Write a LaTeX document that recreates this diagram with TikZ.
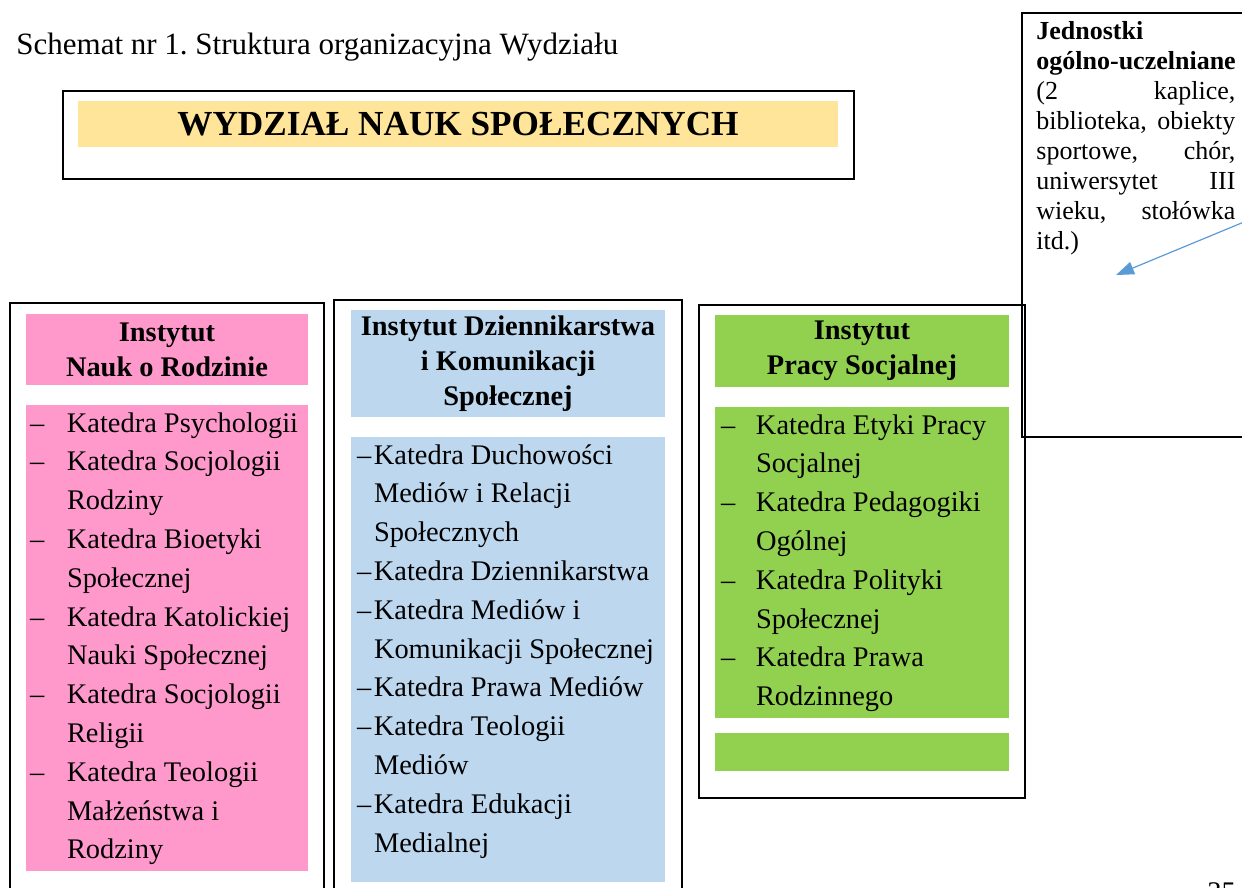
\documentclass[tikz,border=0pt]{standalone}
\usepackage{fontspec}
\setmainfont{Liberation Serif}
\usepackage{tikz}
\usetikzlibrary{arrows.meta}

\definecolor{wydzialyellow}{HTML}{FFE599}
\definecolor{rodzinapink}{HTML}{FF99CC}
\definecolor{mediablue}{HTML}{BDD7EE}
\definecolor{socjalgreen}{HTML}{92D050}
\definecolor{arrowblue}{HTML}{5B9BD5}

\newcommand{\kdash}[1]{\makebox[#1][l]{--}}
\newcommand{\jline}[1]{\makebox[99.5pt][s]{#1}}
\frenchspacing

\begin{document}
\begin{tikzpicture}[x=0.5pt, y=-0.5pt,
    frame/.style={draw=black, line width=1pt},
    colbox/.style={fill=#1, draw=none, inner sep=0pt},
    headtxt/.style={align=center, font=\fontsize{14.2}{17.5}\selectfont\bfseries},
    listtxt/.style={align=left, anchor=north west, inner sep=0pt, font=\fontsize{14.2}{19.4}\selectfont},
    linkarrow/.style={draw=arrowblue, line width=0.6pt, -{Triangle[length=9pt, width=6.5pt]}}]
    \useasboundingbox (0,0) rectangle (1242,888);
    \clip (0,0) rectangle (1242,888);

    % Title
    \node[anchor=base west, inner sep=0pt, font=\fontsize{15.5}{18}\selectfont] (tytul) at (16,55)
        {Schemat nr 1. Struktura organizacyjna Wydziału};

    % Faculty
    \draw[frame] (63,91) rectangle (854,179);
    \node[colbox=wydzialyellow, minimum width=380pt, minimum height=23pt,
        font=\fontsize{17.6}{20}\selectfont\bfseries] (wydzial) at (458,124) {WYDZIAŁ NAUK SPOŁECZNYCH};

    % Jednostki ogolno-uczelniane
    \draw[frame] (1022,13) rectangle (1260,437);
    \node[anchor=north west, inner sep=0pt, align=left, font=\fontsize{13}{15}\selectfont] (jednostki) at (1036,18)
        {\strut\textbf{Jednostki}\\
         \textbf{ogólno-uczelniane}\\
         \jline{(2 kaplice,}\\
         \jline{biblioteka, obiekty}\\
         \jline{sportowe, chór,}\\
         \jline{uniwersytet III}\\
         \jline{wieku, stołówka}\\
         itd.)};
    \coordinate (arrowstart) at (1244,222);
    \coordinate (arrowend) at (1116,275);
    \draw[linkarrow] (arrowstart) -- (arrowend);

    % Instytut Nauk o Rodzinie
    \draw[frame] (10,303) rectangle (324,900);
    \node[colbox=rodzinapink, minimum width=141pt, minimum height=35.5pt, headtxt] (rodzina) at (167,349.5)
        {Instytut\\Nauk o Rodzinie};
    \node[colbox=rodzinapink, minimum width=141pt, minimum height=233pt] (rodzinalist) at (167,638) {};
    \node[listtxt] (rodzinakatedry) at ([xshift=2pt]rodzinalist.north west)
        {\strut\kdash{18.5pt}Katedra Psychologii\\
         \kdash{18.5pt}Katedra Socjologii\\
         \hspace*{18.5pt}Rodziny\\
         \kdash{18.5pt}Katedra Bioetyki\\
         \hspace*{18.5pt}Społecznej\\
         \kdash{18.5pt}Katedra Katolickiej\\
         \hspace*{18.5pt}Nauki Społecznej\\
         \kdash{18.5pt}Katedra Socjologii\\
         \hspace*{18.5pt}Religii\\
         \kdash{18.5pt}Katedra Teologii\\
         \hspace*{18.5pt}Małżeństwa i\\
         \hspace*{18.5pt}Rodziny};

    % Instytut Dziennikarstwa i Komunikacji Spolecznej
    \draw[frame] (334,300) rectangle (682,900);
    \node[colbox=mediablue, minimum width=157pt, minimum height=53.5pt, headtxt] (media) at (508,363.5)
        {Instytut Dziennikarstwa\\i Komunikacji\\Społecznej};
    \node[colbox=mediablue, minimum width=157pt, minimum height=222.5pt] (medialist) at (508,659.5) {};
    \node[listtxt] (mediakatedry) at ([xshift=3pt]medialist.north west)
        {\strut\kdash{8.5pt}Katedra Duchowości\\
         \hspace*{8.5pt}Mediów i Relacji\\
         \hspace*{8.5pt}Społecznych\\
         \kdash{8.5pt}Katedra Dziennikarstwa\\
         \kdash{8.5pt}Katedra Mediów i\\
         \hspace*{8.5pt}Komunikacji Społecznej\\
         \kdash{8.5pt}Katedra Prawa Mediów\\
         \kdash{8.5pt}Katedra Teologii\\
         \hspace*{8.5pt}Mediów\\
         \kdash{8.5pt}Katedra Edukacji\\
         \hspace*{8.5pt}Medialnej};

    % Instytut Pracy Socjalnej
    \draw[frame] (699,305) rectangle (1025,798);
    \node[colbox=socjalgreen, minimum width=147pt, minimum height=36pt, headtxt] (socjal) at (862,351)
        {Instytut\\Pracy Socjalnej};
    \node[colbox=socjalgreen, minimum width=147pt, minimum height=155.5pt] (socjallist) at (862,562.5) {};
    \node[listtxt] (socjalkatedry) at ([xshift=3pt]socjallist.north west)
        {\strut\kdash{17.5pt}Katedra Etyki Pracy\\
         \hspace*{17.5pt}Socjalnej\\
         \kdash{17.5pt}Katedra Pedagogiki\\
         \hspace*{17.5pt}Ogólnej\\
         \kdash{17.5pt}Katedra Polityki\\
         \hspace*{17.5pt}Społecznej\\
         \kdash{17.5pt}Katedra Prawa\\
         \hspace*{17.5pt}Rodzinnego};
    \node[colbox=socjalgreen, minimum width=147pt, minimum height=19pt] (socjalpusty) at (862,752) {};

    % page number
    \node[anchor=north west, inner sep=0pt, font=\fontsize{14.2}{17}\selectfont] (strona) at (1207,882) {35};
\end{tikzpicture}
\end{document}
